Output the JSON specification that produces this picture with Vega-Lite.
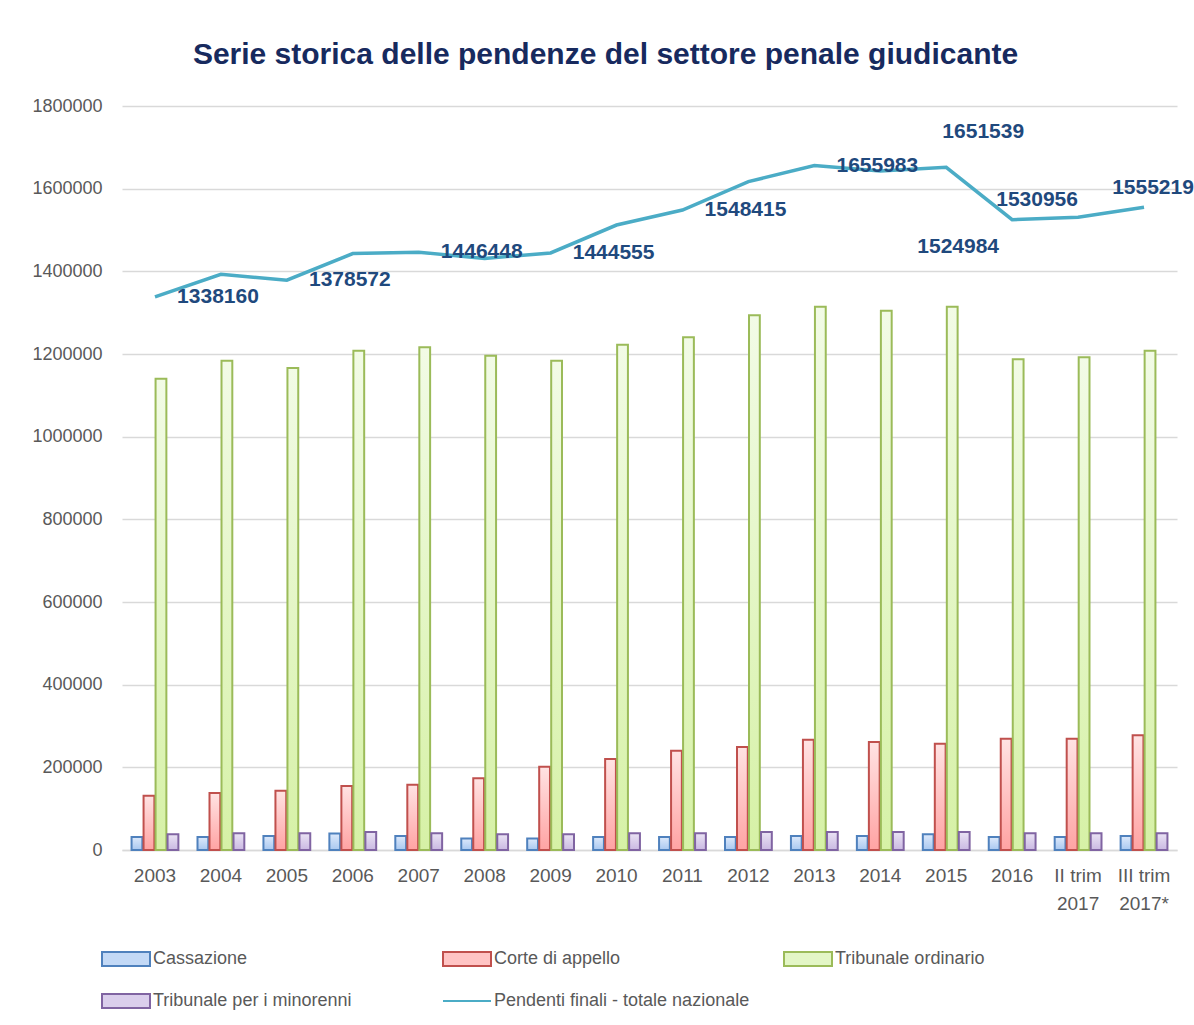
{
  "$schema": "https://vega.github.io/schema/vega-lite/v6.json",
  "width": 1055,
  "height": 744,
  "autosize": {"type": "none"},
  "padding": {"left": 122, "top": 106, "right": 17, "bottom": 175},
  "background": "white",
  "config": {
    "font": "Liberation Sans",
    "view": {"stroke": null},
    "axisX": {"title": null, "labelAngle": 0, "labelFontSize": 19, "labelColor": "#595959", "labelPadding": 16, "ticks": false, "grid": false, "domainColor": "#D9D9D9", "domainWidth": 1.5, "labelLineHeight": 28,
      "labelExpr": "datum.value == 'II trim 2017' ? ['II trim', '2017'] : datum.value == 'III trim 2017*' ? ['III trim', '2017*'] : datum.value"},
    "axisY": {"title": null, "labelFontSize": 18, "labelColor": "#595959", "labelPadding": 20, "ticks": false, "domain": false, "gridColor": "#D9D9D9", "gridWidth": 1.5, "format": "d"},
    "legend": {"orient": "none", "direction": "horizontal", "legendX": -21, "legendY": 828, "columns": 3, "title": null, "labelFontSize": 18, "labelColor": "#595959", "labelLimit": 400, "symbolType": "M-1,-0.29H1V0.29H-1Z", "symbolSize": 2304, "symbolStrokeWidth": 2, "gridAlign": "all", "columnPadding": 30, "rowPadding": 6, "labelOffset": 2, "padding": 0}
  },
  "title": {"text": "Serie storica delle pendenze del settore penale giudicante", "fontSize": 30, "font": "Liberation Sans", "fontWeight": "bold", "color": "#172A5E", "anchor": "middle", "dx": -44, "offset": 27},
  "data": {"values": [
    {"periodo": "2003", "serie": "Cassazione", "valore": 31500},
    {"periodo": "2003", "serie": "Corte di appello", "valore": 131400},
    {"periodo": "2003", "serie": "Tribunale ordinario", "valore": 1140300},
    {"periodo": "2003", "serie": "Tribunale per i minorenni", "valore": 37900},
    {"periodo": "2003", "serie": "Pendenti finali - totale nazionale", "valore": 1338160},
    {"periodo": "2004", "serie": "Cassazione", "valore": 31500},
    {"periodo": "2004", "serie": "Corte di appello", "valore": 137900},
    {"periodo": "2004", "serie": "Tribunale ordinario", "valore": 1183800},
    {"periodo": "2004", "serie": "Tribunale per i minorenni", "valore": 40300},
    {"periodo": "2004", "serie": "Pendenti finali - totale nazionale", "valore": 1393000},
    {"periodo": "2005", "serie": "Cassazione", "valore": 34000},
    {"periodo": "2005", "serie": "Corte di appello", "valore": 143500},
    {"periodo": "2005", "serie": "Tribunale ordinario", "valore": 1166100},
    {"periodo": "2005", "serie": "Tribunale per i minorenni", "valore": 40300},
    {"periodo": "2005", "serie": "Pendenti finali - totale nazionale", "valore": 1378572},
    {"periodo": "2006", "serie": "Cassazione", "valore": 40000},
    {"periodo": "2006", "serie": "Corte di appello", "valore": 154800},
    {"periodo": "2006", "serie": "Tribunale ordinario", "valore": 1208000},
    {"periodo": "2006", "serie": "Tribunale per i minorenni", "valore": 43500},
    {"periodo": "2006", "serie": "Pendenti finali - totale nazionale", "valore": 1443000},
    {"periodo": "2007", "serie": "Cassazione", "valore": 34000},
    {"periodo": "2007", "serie": "Corte di appello", "valore": 158000},
    {"periodo": "2007", "serie": "Tribunale ordinario", "valore": 1216100},
    {"periodo": "2007", "serie": "Tribunale per i minorenni", "valore": 40300},
    {"periodo": "2007", "serie": "Pendenti finali - totale nazionale", "valore": 1446448},
    {"periodo": "2008", "serie": "Cassazione", "valore": 28000},
    {"periodo": "2008", "serie": "Corte di appello", "valore": 173400},
    {"periodo": "2008", "serie": "Tribunale ordinario", "valore": 1195900},
    {"periodo": "2008", "serie": "Tribunale per i minorenni", "valore": 37900},
    {"periodo": "2008", "serie": "Pendenti finali - totale nazionale", "valore": 1431000},
    {"periodo": "2009", "serie": "Cassazione", "valore": 28000},
    {"periodo": "2009", "serie": "Corte di appello", "valore": 201600},
    {"periodo": "2009", "serie": "Tribunale ordinario", "valore": 1183800},
    {"periodo": "2009", "serie": "Tribunale per i minorenni", "valore": 37900},
    {"periodo": "2009", "serie": "Pendenti finali - totale nazionale", "valore": 1444555},
    {"periodo": "2010", "serie": "Cassazione", "valore": 31500},
    {"periodo": "2010", "serie": "Corte di appello", "valore": 220200},
    {"periodo": "2010", "serie": "Tribunale ordinario", "valore": 1222600},
    {"periodo": "2010", "serie": "Tribunale per i minorenni", "valore": 40300},
    {"periodo": "2010", "serie": "Pendenti finali - totale nazionale", "valore": 1512000},
    {"periodo": "2011", "serie": "Cassazione", "valore": 31500},
    {"periodo": "2011", "serie": "Corte di appello", "valore": 240300},
    {"periodo": "2011", "serie": "Tribunale ordinario", "valore": 1240300},
    {"periodo": "2011", "serie": "Tribunale per i minorenni", "valore": 40300},
    {"periodo": "2011", "serie": "Pendenti finali - totale nazionale", "valore": 1548415},
    {"periodo": "2012", "serie": "Cassazione", "valore": 31500},
    {"periodo": "2012", "serie": "Corte di appello", "valore": 249200},
    {"periodo": "2012", "serie": "Tribunale ordinario", "valore": 1293500},
    {"periodo": "2012", "serie": "Tribunale per i minorenni", "valore": 43500},
    {"periodo": "2012", "serie": "Pendenti finali - totale nazionale", "valore": 1617000},
    {"periodo": "2013", "serie": "Cassazione", "valore": 34000},
    {"periodo": "2013", "serie": "Corte di appello", "valore": 266900},
    {"periodo": "2013", "serie": "Tribunale ordinario", "valore": 1314500},
    {"periodo": "2013", "serie": "Tribunale per i minorenni", "valore": 43500},
    {"periodo": "2013", "serie": "Pendenti finali - totale nazionale", "valore": 1655983},
    {"periodo": "2014", "serie": "Cassazione", "valore": 34000},
    {"periodo": "2014", "serie": "Corte di appello", "valore": 261300},
    {"periodo": "2014", "serie": "Tribunale ordinario", "valore": 1304800},
    {"periodo": "2014", "serie": "Tribunale per i minorenni", "valore": 43500},
    {"periodo": "2014", "serie": "Pendenti finali - totale nazionale", "valore": 1643000},
    {"periodo": "2015", "serie": "Cassazione", "valore": 38000},
    {"periodo": "2015", "serie": "Corte di appello", "valore": 257200},
    {"periodo": "2015", "serie": "Tribunale ordinario", "valore": 1314500},
    {"periodo": "2015", "serie": "Tribunale per i minorenni", "valore": 43500},
    {"periodo": "2015", "serie": "Pendenti finali - totale nazionale", "valore": 1651539},
    {"periodo": "2016", "serie": "Cassazione", "valore": 31500},
    {"periodo": "2016", "serie": "Corte di appello", "valore": 269300},
    {"periodo": "2016", "serie": "Tribunale ordinario", "valore": 1187100},
    {"periodo": "2016", "serie": "Tribunale per i minorenni", "valore": 40300},
    {"periodo": "2016", "serie": "Pendenti finali - totale nazionale", "valore": 1524984},
    {"periodo": "II trim 2017", "serie": "Cassazione", "valore": 31500},
    {"periodo": "II trim 2017", "serie": "Corte di appello", "valore": 269300},
    {"periodo": "II trim 2017", "serie": "Tribunale ordinario", "valore": 1191900},
    {"periodo": "II trim 2017", "serie": "Tribunale per i minorenni", "valore": 40300},
    {"periodo": "II trim 2017", "serie": "Pendenti finali - totale nazionale", "valore": 1530956},
    {"periodo": "III trim 2017*", "serie": "Cassazione", "valore": 34000},
    {"periodo": "III trim 2017*", "serie": "Corte di appello", "valore": 277500},
    {"periodo": "III trim 2017*", "serie": "Tribunale ordinario", "valore": 1208000},
    {"periodo": "III trim 2017*", "serie": "Tribunale per i minorenni", "valore": 40300},
    {"periodo": "III trim 2017*", "serie": "Pendenti finali - totale nazionale", "valore": 1555219}
  ]},
  "layer": [
    {
      "transform": [{"filter": "datum.serie != 'Pendenti finali - totale nazionale'"}],
      "mark": {"type": "bar", "strokeWidth": 2},
      "encoding": {
        "x": {"field": "periodo", "type": "nominal", "scale": {"domain": ["2003","2004","2005","2006","2007","2008","2009","2010","2011","2012","2013","2014","2015","2016","II trim 2017","III trim 2017*"], "paddingInner": 0.29, "paddingOuter": 0.145}},
        "xOffset": {"field": "serie", "type": "nominal", "scale": {"domain": ["Cassazione", "Corte di appello", "Tribunale ordinario", "Tribunale per i minorenni"], "paddingInner": 0.1}},
        "y": {"field": "valore", "type": "quantitative", "scale": {"domain": [0, 1800000]}, "axis": {"values": [0, 200000, 400000, 600000, 800000, 1000000, 1200000, 1400000, 1600000, 1800000], "format": "d"}},
        "fill": {
          "field": "serie", "type": "nominal",
          "scale": {"domain": ["Cassazione", "Corte di appello", "Tribunale ordinario", "Tribunale per i minorenni", "Pendenti finali - totale nazionale"], "range": ["#C3D9F6", "#FFC4C4", "#E3F6C6", "#DACEEC", "transparent"]},
          "legend": {"encode": {"symbols": {"update": {"shape": {"signal": "datum.value === 'Pendenti finali - totale nazionale' ? 'M-1,0H1' : 'M-1,-0.29H1V0.29H-1Z'"}}}}},
          "condition": [
            {"test": "datum.serie == 'Cassazione'", "value": {"gradient": "linear", "x1": 0, "y1": 0, "x2": 0, "y2": 1, "stops": [{"offset": 0, "color": "#DDE9FB"}, {"offset": 1, "color": "#A9C8F0"}]}},
            {"test": "datum.serie == 'Corte di appello'", "value": {"gradient": "linear", "x1": 0, "y1": 0, "x2": 0, "y2": 1, "stops": [{"offset": 0, "color": "#FFE3E3"}, {"offset": 1, "color": "#FFA3A3"}]}},
            {"test": "datum.serie == 'Tribunale ordinario'", "value": {"gradient": "linear", "x1": 0, "y1": 0, "x2": 0, "y2": 1, "stops": [{"offset": 0, "color": "#F2FBE6"}, {"offset": 1, "color": "#D6F1A6"}]}},
            {"test": "datum.serie == 'Tribunale per i minorenni'", "value": {"gradient": "linear", "x1": 0, "y1": 0, "x2": 0, "y2": 1, "stops": [{"offset": 0, "color": "#EAE3F4"}, {"offset": 1, "color": "#CAB9E2"}]}}
          ]
        },
        "stroke": {
          "field": "serie", "type": "nominal",
          "scale": {"domain": ["Cassazione", "Corte di appello", "Tribunale ordinario", "Tribunale per i minorenni", "Pendenti finali - totale nazionale"], "range": ["#4F81BD", "#C0504D", "#9BBB59", "#8064A2", "#4BACC6"]},
          "legend": {"encode": {"symbols": {"update": {"shape": {"signal": "datum.value === 'Pendenti finali - totale nazionale' ? 'M-1,0H1' : 'M-1,-0.29H1V0.29H-1Z'"}}}}}
        }
      }
    },
    {
      "transform": [{"filter": "datum.serie == 'Pendenti finali - totale nazionale'"}],
      "mark": {"type": "line", "strokeWidth": 3.5},
      "encoding": {
        "x": {"field": "periodo", "type": "nominal"},
        "y": {"field": "valore", "type": "quantitative"},
        "stroke": {"field": "serie", "type": "nominal"}
      }
    },
    {
      "transform": [{"filter": "datum.serie == 'Pendenti finali - totale nazionale' && indexof(['2003','2005','2007','2009','2011','2013'], datum.periodo) >= 0"}],
      "mark": {"type": "text", "fontSize": 21, "fontWeight": "bold", "color": "#1F497D", "align": "center", "baseline": "middle", "dx": 63, "dy": 0},
      "encoding": {
        "x": {"field": "periodo", "type": "nominal"},
        "y": {"field": "valore", "type": "quantitative"},
        "text": {"field": "valore", "type": "quantitative", "format": "d"}
      }
    },
    {
      "transform": [{"filter": "datum.serie == 'Pendenti finali - totale nazionale' && datum.periodo == '2015'"}],
      "mark": {"type": "text", "fontSize": 21, "fontWeight": "bold", "color": "#1F497D", "align": "center", "baseline": "middle", "dx": 37, "dy": -35},
      "encoding": {
        "x": {"field": "periodo", "type": "nominal"},
        "y": {"field": "valore", "type": "quantitative"},
        "text": {"field": "valore", "type": "quantitative", "format": "d"}
      }
    },
    {
      "transform": [{"filter": "datum.serie == 'Pendenti finali - totale nazionale' && datum.periodo == '2016'"}],
      "mark": {"type": "text", "fontSize": 21, "fontWeight": "bold", "color": "#1F497D", "align": "center", "baseline": "middle", "dx": -54, "dy": 27},
      "encoding": {
        "x": {"field": "periodo", "type": "nominal"},
        "y": {"field": "valore", "type": "quantitative"},
        "text": {"field": "valore", "type": "quantitative", "format": "d"}
      }
    },
    {
      "transform": [{"filter": "datum.serie == 'Pendenti finali - totale nazionale' && datum.periodo == 'II trim 2017'"}],
      "mark": {"type": "text", "fontSize": 21, "fontWeight": "bold", "color": "#1F497D", "align": "center", "baseline": "middle", "dx": -41, "dy": -17},
      "encoding": {
        "x": {"field": "periodo", "type": "nominal"},
        "y": {"field": "valore", "type": "quantitative"},
        "text": {"field": "valore", "type": "quantitative", "format": "d"}
      }
    },
    {
      "transform": [{"filter": "datum.serie == 'Pendenti finali - totale nazionale' && datum.periodo == 'III trim 2017*'"}],
      "mark": {"type": "text", "fontSize": 21, "fontWeight": "bold", "color": "#1F497D", "align": "center", "baseline": "middle", "dx": 9, "dy": -19},
      "encoding": {
        "x": {"field": "periodo", "type": "nominal"},
        "y": {"field": "valore", "type": "quantitative"},
        "text": {"field": "valore", "type": "quantitative", "format": "d"}
      }
    }
  ]
}
